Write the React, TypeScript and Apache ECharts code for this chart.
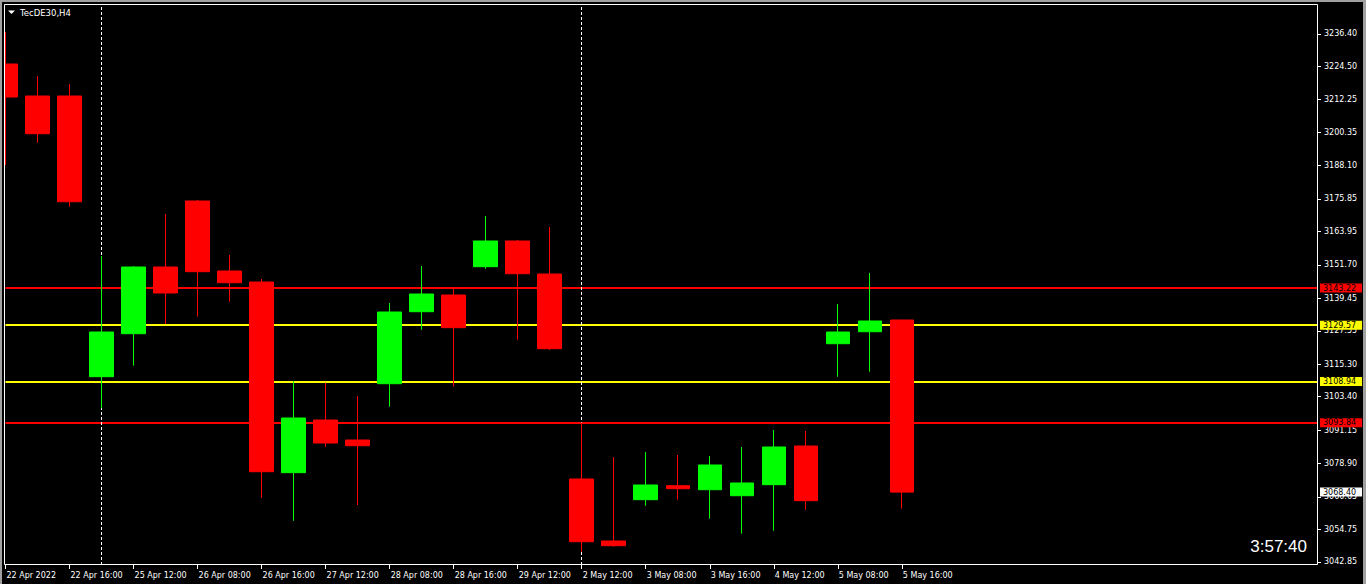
import React, { useEffect, useRef } from "react";
import * as echarts from "echarts";

// H4 bar times (category axis)
const barTimes = [
  "22 Apr 08:00", "22 Apr 12:00", "22 Apr 16:00",
  "25 Apr 08:00", "25 Apr 12:00", "25 Apr 16:00",
  "26 Apr 08:00", "26 Apr 12:00", "26 Apr 16:00",
  "27 Apr 08:00", "27 Apr 12:00", "27 Apr 16:00",
  "28 Apr 08:00", "28 Apr 12:00", "28 Apr 16:00",
  "29 Apr 08:00", "29 Apr 12:00", "29 Apr 16:00",
  "2 May 12:00", "2 May 16:00",
  "3 May 08:00", "3 May 12:00", "3 May 16:00",
  "4 May 08:00", "4 May 12:00", "4 May 16:00",
  "5 May 08:00", "5 May 12:00", "5 May 16:00",
];

// Labels shown on the time axis (every second bar)
const xTickLabels = [
  "22 Apr 2022", "22 Apr 16:00", "25 Apr 12:00", "26 Apr 08:00", "26 Apr 16:00",
  "27 Apr 12:00", "28 Apr 08:00", "28 Apr 16:00", "29 Apr 12:00", "2 May 12:00",
  "3 May 08:00", "3 May 16:00", "4 May 12:00", "5 May 08:00", "5 May 16:00",
];

const opens = [
  3225.33, 3213.6, 3213.6, 3110.71, 3126.47, 3150.92, 3175.11, 3149.45, 3145.42, 3075.52,
  3094.83, 3087.5, 3108.14, 3134.53, 3140.65, 3151.03, 3160.45, 3148.35, 3073.21, 3050.48,
  3065.62, 3070.75, 3069.28, 3067.08, 3071.12, 3085.3, 3122.8, 3127.2, 3131.49,
];
const closes = [
  3213.23, 3199.78, 3174.85, 3127.09, 3150.92, 3141.39, 3149.2, 3145.16, 3075.88, 3095.57,
  3086.4, 3085.41, 3134.42, 3141.02, 3128.67, 3160.45, 3148.46, 3120.97, 3050.22, 3048.76,
  3071.01, 3069.65, 3078.34, 3071.74, 3084.94, 3065.25, 3127.09, 3131.12, 3068.4,
];
const lows = [
  3188.31, 3196.48, 3173.02, 3099.12, 3114.74, 3130.02, 3132.7, 3138.2, 3066.35, 3057.92,
  3084.94, 3063.67, 3099.71, 3127.93, 3107.04, 3150.3, 3124.27, 3120.5, 3046.56, 3048.4,
  3063.42, 3065.62, 3058.65, 3053.15, 3054.25, 3061.95, 3110.71, 3112.54, 3062.32,
];
const highs = [
  3237.06, 3220.93, 3218.0, 3154.95, 3151.2, 3170.35, 3175.5, 3155.32, 3146.52, 3109.13,
  3108.51, 3103.63, 3137.72, 3151.28, 3143.1, 3169.61, 3160.8, 3165.58, 3093.84, 3081.27,
  3083.1, 3082.0, 3081.64, 3084.94, 3091.17, 3090.8, 3137.35, 3148.72, 3131.6,
];

// Price scale tick labels
const yTickValues = [
  3236.4, 3224.5, 3212.25, 3200.35, 3188.1, 3175.85, 3163.95, 3151.7, 3139.45,
  3127.55, 3115.3, 3103.4, 3091.15, 3078.9, 3066.65, 3054.75, 3042.85,
];

const redLevels = [3143.22, 3093.84];
const yellowLevels = [3129.57, 3108.94];
const currentPrice = 3068.4;
const separatorBars = ["25 Apr 08:00", "2 May 12:00"];
const emptySlots = 13;
const yMin = 3041.68;
const yMax = 3247.33;
const clockText = "3:57:40";
const titleText = "TecDE30,H4";

const AXIS_FONT = "DejaVu Sans";

export default function App() {
  const ref = useRef<HTMLDivElement>(null);

  useEffect(() => {
    if (!ref.current) return;
    const chart = echarts.init(ref.current, null, { renderer: "svg" });

    const categories = [
      ...barTimes,
      ...Array.from({ length: emptySlots }, (_, i) => `future-${i}`),
    ];
    const ohlc = opens.map((o, i) => [o, closes[i], lows[i], highs[i]]);
    const shown = (idx: number) => idx % 2 === 0 && idx / 2 < xTickLabels.length;

    const tag = (v: number, bg: string, lineColor: string | null) => ({
      yAxis: v,
      lineStyle: lineColor
        ? { color: lineColor, width: 2, type: "solid" }
        : { color: "rgba(0,0,0,0)", width: 1, type: "solid" },
      label: { backgroundColor: bg, color: "#000" },
    });

    chart.setOption({
      animation: false,
      backgroundColor: "#000",
      grid: {
        left: 5.5,
        top: 4,
        right: 48,
        bottom: 19,
        show: false,
      },
      xAxis: {
        type: "category",
        data: categories,
        boundaryGap: false,
        axisLine: { show: false },
        axisTick: {
          show: true,
          interval: (idx: number) => shown(idx),
          length: 4,
          lineStyle: { color: "#fff" },
        },
        axisLabel: {
          interval: (idx: number) => shown(idx),
          formatter: (_v: string, idx: number) => xTickLabels[idx / 2] ?? "",
          align: "left",
          color: "#fff",
          fontSize: 8,
          fontFamily: AXIS_FONT,
          margin: 6,
          padding: [0, 0, 0, 1],
        },
        splitLine: { show: false },
      },
      yAxis: {
        type: "value",
        position: "right",
        min: yMin,
        max: yMax,
        axisLine: { show: false },
        axisTick: {
          show: true,
          customValues: yTickValues,
          length: 3,
          lineStyle: { color: "#fff" },
        },
        axisLabel: {
          customValues: yTickValues,
          formatter: (v: number) => v.toFixed(2),
          color: "#fff",
          fontSize: 8,
          fontFamily: AXIS_FONT,
          margin: 6,
        },
        splitLine: { show: false },
      },
      series: [
        {
          type: "candlestick",
          data: ohlc,
          barWidth: 24,
          z: 3,
          itemStyle: {
            color: "#00ff00",
            color0: "#ff0000",
            borderColor: "#00ff00",
            borderColor0: "#ff0000",
            borderWidth: 1,
          },
          markLine: {
            z: 1,
            silent: true,
            symbol: ["none", "none"],
            label: {
              show: true,
              position: "end",
              distance: 2,
              formatter: (p: any) => Number(p.value).toFixed(2),
              fontSize: 8,
              fontFamily: AXIS_FONT,
              padding: [1, 6, 0, 3],
            },
            data: [
              ...redLevels.map((v) => tag(v, "#ff0000", "#ff0000")),
              ...yellowLevels.map((v) => tag(v, "#ffff00", "#ffff00")),
              tag(currentPrice, "#ffffff", null),
              ...separatorBars.map((b) => ({
                xAxis: b,
                lineStyle: { color: "#fff", width: 1, type: [3, 2] },
                label: { show: false },
              })),
            ],
          },
        },
      ],
      graphic: [
        // mask left of the frame (clips first candle)
        { type: "rect", z: 20, shape: { x: 0, y: 0, width: 4, height: 584 }, style: { fill: "#000" } },
        // window borders
        { type: "rect", z: 21, shape: { x: 0, y: 0, width: 2, height: 584 }, style: { fill: "#a0a0a0" } },
        { type: "rect", z: 21, shape: { x: 0, y: 0, width: 1366, height: 2 }, style: { fill: "#a0a0a0" } },
        { type: "rect", z: 21, shape: { x: 1363, y: 0, width: 3, height: 584 }, style: { fill: "#a0a0a0" } },
        // chart frame
        {
          type: "rect",
          z: 22,
          shape: { x: 4.5, y: 4.5, width: 1313, height: 560 },
          style: { fill: "none", stroke: "#fff", lineWidth: 1 },
        },
        {
          type: "polygon",
          z: 22,
          shape: { points: [[8, 10.5], [15, 10.5], [11.5, 14]] },
          style: { fill: "#fff" },
        },
        {
          type: "text",
          z: 22,
          x: 20,
          y: 12.5,
          style: {
            text: titleText,
            fill: "#fff",
            fontSize: 8.5,
            fontFamily: AXIS_FONT,
            align: "left",
            verticalAlign: "middle",
          },
        },
        {
          type: "text",
          z: 22,
          x: 1307,
          y: 546,
          style: {
            text: clockText,
            fill: "#fff",
            fontSize: 17,
            fontFamily: "Liberation Sans",
            align: "right",
            verticalAlign: "middle",
          },
        },
      ],
    });

    return () => chart.dispose();
  }, []);

  return (
    <div
      ref={ref}
      style={{
        position: "fixed",
        left: 0,
        top: 0,
        width: 1366,
        height: 584,
        background: "#000",
      }}
    />
  );
}
